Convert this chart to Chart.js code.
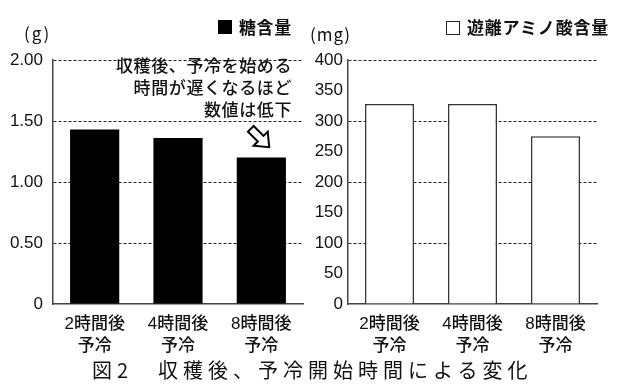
<!DOCTYPE html>
<html>
<head>
<meta charset="utf-8">
<script src="https://cdn.jsdelivr.net/npm/chart.js@4/dist/chart.umd.min.js"></script>
<style>
  body { margin: 0; background: #fff; width: 622px; height: 386px; overflow: hidden; position: relative;
         font-family: "Liberation Sans", "Noto Sans CJK JP", sans-serif; color: #111; }
  canvas { position: absolute; top: 0; }
  #leftChart { left: 0; }
  #rightChart { left: 305px; }
  .txt { position: absolute; white-space: nowrap; line-height: 1; }
  .jp { font-family: "Noto Sans CJK JP", sans-serif; }
  .box { position: absolute; width: 14px; height: 14px; box-sizing: border-box; }
</style>
</head>
<body>
<canvas id="leftChart" width="305" height="362"></canvas>
<canvas id="rightChart" width="317" height="362"></canvas>

<div class="txt jp" style="left:24px; top:24px; font-size:17px; letter-spacing:2px;">(g)</div>
<div class="txt jp" style="left:310px; top:25px; font-size:17px; letter-spacing:1px;">(mg)</div>

<div class="box" style="left:218px; top:20px; background:#000;"></div>
<div class="txt jp" style="left:239px; top:18px; font-size:17px; font-weight:bold; letter-spacing:0.6px;">糖含量</div>
<div class="box" style="left:446px; top:21px; border:1.5px solid #222; background:#fff;"></div>
<div class="txt jp" style="left:467px; top:18px; font-size:17px; font-weight:bold; letter-spacing:0.8px;">遊離アミノ酸含量</div>

<div class="txt jp" style="right:330px; top:54px; font-size:17px; font-weight:500; text-align:right; line-height:22px; letter-spacing:0.6px;">
収穫後、予冷を始める<br>時間が遅くなるほど<br>数値は低下</div>

<svg style="position:absolute; left:243px; top:121px;" width="34" height="34">
  <g transform="translate(17,17) rotate(45)">
    <polygon points="-13,-4 1,-4 1,-10 13,0 1,10 1,4 -13,4" fill="#fff" stroke="#000" stroke-width="2" stroke-linejoin="miter"/>
  </g>
</svg>

<div class="txt jp" style="left:92px; top:360px; font-size:20px; letter-spacing:5px;">図2　収穫後、予冷開始時間による変化</div>

<script>
// categories and values
const categories = [['2時間後', '予冷'], ['4時間後', '予冷'], ['8時間後', '予冷']];
const sugarValues = [1.43, 1.36, 1.20];      // g
const aminoValues = [328, 328, 275];         // mg
const sugarTicks = [0, 0.5, 1.0, 1.5, 2.0];
const aminoTicks = [0, 50, 100, 150, 200, 250, 300, 350, 400];

const tickFont = { family: '"Liberation Sans", sans-serif', size: 17 };
const catFont = { family: '"Liberation Sans", "Noto Sans CJK JP", sans-serif', size: 17, weight: '500', lineHeight: 1.25 };

function makeChart(id, values, ticks, opts) {
    return new Chart(document.getElementById(id), {
        type: 'bar',
        data: {
            labels: categories,
            datasets: [{
                data: values,
                backgroundColor: opts.fill,
                borderColor: opts.border,
                borderWidth: opts.borderWidth,
                borderSkipped: 'bottom',
                categoryPercentage: 1,
                barPercentage: 0.59
            }]
        },
        options: {
            responsive: false,
            animation: false,
            layout: { padding: { left: 0, top: 60, right: opts.padRight, bottom: 0 } },
            plugins: { legend: { display: false }, tooltip: { enabled: false } },
            scales: {
                x: {
                    grid: { display: false, drawTicks: false },
                    border: { color: '#444', width: 1.5 },
                    ticks: { color: '#111', font: catFont, padding: 10, maxRotation: 0 },
                    afterFit: s => { s.height = 58; }
                },
                y: {
                    min: ticks[0],
                    max: ticks[ticks.length - 1],
                    afterBuildTicks: s => { s.ticks = ticks.map(v => ({ value: v })); },
                    grid: {
                        drawTicks: false,
                        // dashed lines only on the major steps, none on the zero line
                        color: c => (c.tick && c.tick.value > 0 && c.tick.value % opts.gridStep === 0) ? '#222' : 'rgba(0,0,0,0)',
                        lineWidth: 1
                    },
                    border: { color: '#444', width: 1.5, dash: [3, 2] },
                    ticks: {
                        color: '#111',
                        font: tickFont,
                        padding: opts.tickPad,
                        callback: opts.format
                    },
                    afterFit: s => { s.width = opts.axisWidth; }
                }
            }
        }
    });
}

makeChart('leftChart', sugarValues, sugarTicks, {
    fill: '#000', border: '#000', borderWidth: 0,
    padRight: 2, axisWidth: 53, tickPad: 10, gridStep: 0.5,
    format: v => v === 0 ? '0' : Number(v).toFixed(2)
});

makeChart('rightChart', aminoValues, aminoTicks, {
    fill: '#fff', border: '#333', borderWidth: 1.5,
    padRight: 25, axisWidth: 43, tickPad: 5, gridStep: 100,
    format: v => String(v)
});
</script>
</body>
</html>
